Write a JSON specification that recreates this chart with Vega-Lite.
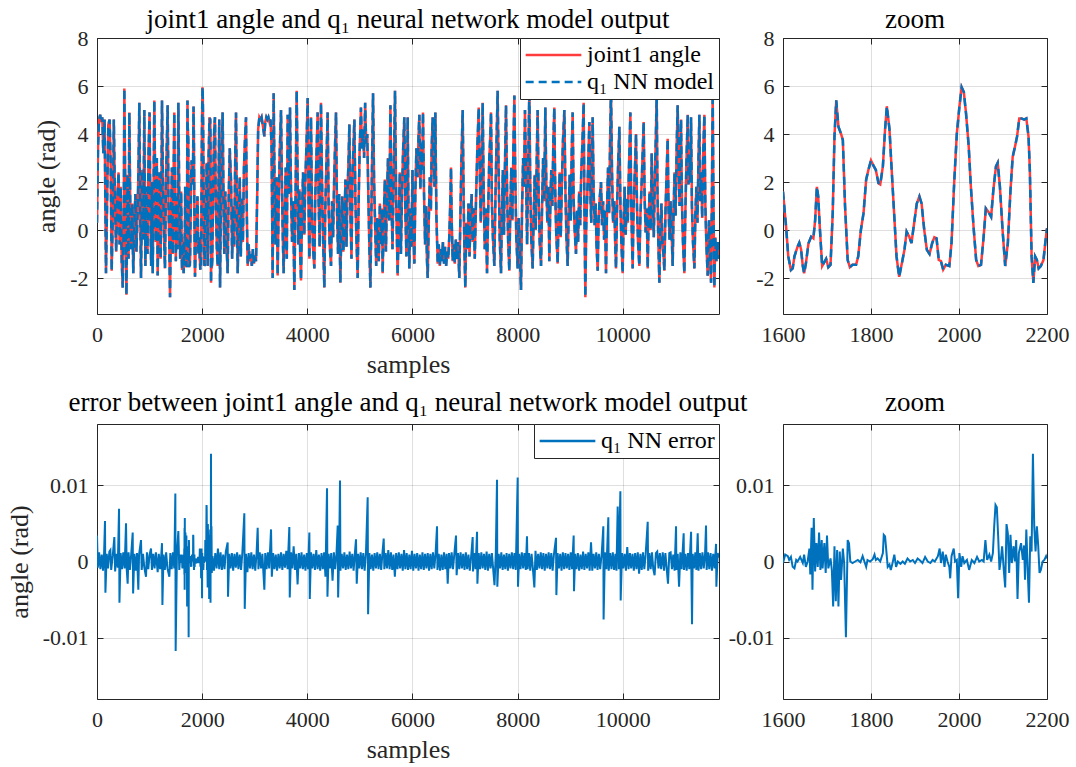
{
  "$schema": "https://vega.github.io/schema/vega-lite/v6.json",
  "background": "white",
  "padding": {"left": 5, "top": 5, "right": 5, "bottom": 0},
  "columns": 2,
  "spacing": {"row": 110, "column": 64},
  "bounds": "flush",
  "align": "each",
  "resolve": {"scale": {"color": "independent", "strokeDash": "independent"}},
  "datasets": {
    "angle": [
      {"sample":0,"angle":0.3},{"sample":20,"angle":3.5},{"sample":40,"angle":4.6},{"sample":60,"angle":4.8},{"sample":80,"angle":4.5},{"sample":100,"angle":4.7},{"sample":120,"angle":3.2},{"sample":145,"angle":4.6},{"sample":171,"angle":-1.8},{"sample":195,"angle":1.5},{"sample":215,"angle":4.4},{"sample":240,"angle":4.6},{"sample":260,"angle":2.8},{"sample":279,"angle":-1.7},{"sample":300,"angle":0.5},{"sample":320,"angle":4.6},{"sample":345,"angle":0.8},{"sample":365,"angle":-0.9},{"sample":385,"angle":1.2},{"sample":410,"angle":2.4},{"sample":430,"angle":-0.6},{"sample":450,"angle":1.8},{"sample":470,"angle":-1.3},{"sample":490,"angle":-2.4},{"sample":510,"angle":0.8},{"sample":520,"angle":5.9},{"sample":540,"angle":1.0},{"sample":560,"angle":-2.7},{"sample":580,"angle":2.3},{"sample":600,"angle":-1.2},{"sample":615,"angle":4.9},{"sample":635,"angle":0.4},{"sample":650,"angle":-0.8},{"sample":670,"angle":1.1},{"sample":690,"angle":-1.8},{"sample":710,"angle":0.2},{"sample":730,"angle":1.5},{"sample":750,"angle":-0.9},{"sample":775,"angle":0.9},{"sample":790,"angle":2.8},{"sample":805,"angle":5.3},{"sample":820,"angle":1.2},{"sample":837,"angle":-2.0},{"sample":860,"angle":2.5},{"sample":880,"angle":-0.4},{"sample":900,"angle":5.0},{"sample":920,"angle":-1.5},{"sample":940,"angle":1.8},{"sample":960,"angle":-1.0},{"sample":980,"angle":3.2},{"sample":1000,"angle":4.9},{"sample":1015,"angle":0.6},{"sample":1030,"angle":-1.5},{"sample":1045,"angle":2.0},{"sample":1060,"angle":-1.8},{"sample":1075,"angle":1.5},{"sample":1090,"angle":5.4},{"sample":1105,"angle":2.2},{"sample":1120,"angle":-0.5},{"sample":1138,"angle":3.0},{"sample":1154,"angle":-1.9},{"sample":1170,"angle":0.7},{"sample":1190,"angle":2.4},{"sample":1210,"angle":-1.2},{"sample":1225,"angle":1.5},{"sample":1236,"angle":5.4},{"sample":1255,"angle":2.0},{"sample":1275,"angle":-0.3},{"sample":1293,"angle":-1.6},{"sample":1310,"angle":1.8},{"sample":1330,"angle":3.8},{"sample":1344,"angle":5.2},{"sample":1360,"angle":1.0},{"sample":1375,"angle":-0.6},{"sample":1389,"angle":-2.8},{"sample":1405,"angle":0.3},{"sample":1425,"angle":2.6},{"sample":1440,"angle":-1.0},{"sample":1455,"angle":1.9},{"sample":1470,"angle":4.9},{"sample":1485,"angle":0.5},{"sample":1500,"angle":-1.3},{"sample":1515,"angle":1.4},{"sample":1530,"angle":-0.8},{"sample":1547,"angle":5.3},{"sample":1565,"angle":1.2},{"sample":1582,"angle":-1.2},
      {"sample":1600,"angle":1.6},{"sample":1607,"angle":0.14},{"sample":1612,"angle":-1.1},{"sample":1618,"angle":-1.67},{"sample":1622,"angle":-1.6},{"sample":1626,"angle":-1.1},{"sample":1633,"angle":-0.7},{"sample":1637,"angle":-0.53},{"sample":1641,"angle":-0.8},{"sample":1645,"angle":-1.5},{"sample":1648,"angle":-1.8},{"sample":1652,"angle":-1.4},{"sample":1658,"angle":-0.55},{"sample":1664,"angle":-0.28},{"sample":1669,"angle":-0.35},{"sample":1673,"angle":0.4},{"sample":1677,"angle":1.8},{"sample":1680,"angle":1.4},{"sample":1684,"angle":0},{"sample":1689,"angle":-1.5},{"sample":1692,"angle":-1.4},{"sample":1698,"angle":-1.2},{"sample":1703,"angle":-1.55},{"sample":1708,"angle":-1.45},{"sample":1713,"angle":0.7},{"sample":1717,"angle":3.9},{"sample":1721,"angle":5.4},{"sample":1726,"angle":4.3},{"sample":1732,"angle":4.0},{"sample":1736,"angle":3.75},{"sample":1741,"angle":1.0},{"sample":1747,"angle":-1.25},{"sample":1752,"angle":-1.55},{"sample":1758,"angle":-1.45},{"sample":1766,"angle":-1.45},{"sample":1771,"angle":-1.1},{"sample":1777,"angle":0},{"sample":1783,"angle":0.7},{"sample":1789,"angle":2.1},{"sample":1794,"angle":2.5},{"sample":1800,"angle":2.9},{"sample":1805,"angle":2.7},{"sample":1811,"angle":2.5},{"sample":1817,"angle":1.95},{"sample":1821,"angle":1.9},{"sample":1827,"angle":2.65},{"sample":1832,"angle":4.2},{"sample":1836,"angle":5.15},{"sample":1842,"angle":4.2},{"sample":1847,"angle":2.5},{"sample":1853,"angle":0.55},{"sample":1858,"angle":-1.1},{"sample":1864,"angle":-1.95},{"sample":1870,"angle":-1.4},{"sample":1876,"angle":-0.83},{"sample":1881,"angle":-0.07},{"sample":1887,"angle":-0.28},{"sample":1892,"angle":-0.55},{"sample":1898,"angle":0.28},{"sample":1904,"angle":1.1},{"sample":1910,"angle":1.4},{"sample":1915,"angle":1.1},{"sample":1921,"angle":0},{"sample":1927,"angle":-0.83},{"sample":1933,"angle":-1.0},{"sample":1939,"angle":-0.55},{"sample":1944,"angle":-0.3},{"sample":1949,"angle":-0.35},{"sample":1954,"angle":-1.25},{"sample":1959,"angle":-1.3},{"sample":1964,"angle":-1.65},{"sample":1970,"angle":-1.45},{"sample":1978,"angle":-1.5},{"sample":1983,"angle":-0.55},{"sample":1989,"angle":1.95},{"sample":1995,"angle":4.0},{"sample":2001,"angle":5.15},{"sample":2006,"angle":5.95},{"sample":2011,"angle":5.75},{"sample":2016,"angle":4.85},{"sample":2022,"angle":3.5},{"sample":2027,"angle":1.8},{"sample":2033,"angle":0.14},{"sample":2039,"angle":-1.25},{"sample":2044,"angle":-1.5},{"sample":2050,"angle":-1.45},{"sample":2056,"angle":-0.28},{"sample":2061,"angle":0.9},{"sample":2067,"angle":0.75},{"sample":2073,"angle":0.55},{"sample":2078,"angle":1.65},{"sample":2084,"angle":2.65},{"sample":2088,"angle":2.8},{"sample":2093,"angle":1.8},{"sample":2099,"angle":0},{"sample":2105,"angle":-1.5},{"sample":2111,"angle":-0.55},{"sample":2117,"angle":1.65},{"sample":2122,"angle":3.05},{"sample":2127,"angle":3.45},{"sample":2132,"angle":3.9},{"sample":2137,"angle":4.65},{"sample":2142,"angle":4.65},{"sample":2148,"angle":4.6},{"sample":2153,"angle":4.65},{"sample":2158,"angle":3.9},{"sample":2161,"angle":2.5},{"sample":2165,"angle":-1.1},{"sample":2169,"angle":-2.2},{"sample":2173,"angle":-1.1},{"sample":2177,"angle":-1.25},{"sample":2181,"angle":-1.6},{"sample":2186,"angle":-1.5},{"sample":2192,"angle":-1.25},{"sample":2196,"angle":-0.55},{"sample":2200,"angle":0.07},
      {"sample":2215,"angle":2.6},{"sample":2230,"angle":4.3},{"sample":2244,"angle":4.7},{"sample":2260,"angle":1.0},{"sample":2280,"angle":-0.8},{"sample":2295,"angle":-1.5},{"sample":2310,"angle":1.8},{"sample":2325,"angle":4.6},{"sample":2340,"angle":-2.4},{"sample":2355,"angle":0.5},{"sample":2370,"angle":3.0},{"sample":2390,"angle":4.9},{"sample":2405,"angle":1.5},{"sample":2420,"angle":-1.0},{"sample":2440,"angle":1.6},{"sample":2460,"angle":-0.4},{"sample":2485,"angle":-1.8},{"sample":2500,"angle":0.8},{"sample":2525,"angle":3.4},{"sample":2550,"angle":2.0},{"sample":2570,"angle":-1.2},{"sample":2590,"angle":1.0},{"sample":2610,"angle":-0.7},{"sample":2630,"angle":3.2},{"sample":2644,"angle":4.9},{"sample":2660,"angle":1.0},{"sample":2676,"angle":-1.8},{"sample":2695,"angle":0.4},{"sample":2715,"angle":2.2},{"sample":2735,"angle":-1.1},{"sample":2755,"angle":1.3},{"sample":2775,"angle":-0.5},{"sample":2795,"angle":2.6},{"sample":2815,"angle":3.8},{"sample":2834,"angle":4.7},{"sample":2850,"angle":0.6},{"sample":2866,"angle":-1.5},{"sample":2885,"angle":-0.6},{"sample":2905,"angle":-1.3},{"sample":2925,"angle":-1.0},{"sample":2945,"angle":-1.5},{"sample":2965,"angle":-0.8},{"sample":2985,"angle":-1.4},{"sample":3005,"angle":-1.1},{"sample":3025,"angle":-1.3},{"sample":3045,"angle":1.2},{"sample":3065,"angle":4.2},{"sample":3088,"angle":4.7},{"sample":3110,"angle":4.6},{"sample":3130,"angle":4.7},{"sample":3150,"angle":4.4},{"sample":3170,"angle":4.1},{"sample":3183,"angle":3.9},{"sample":3200,"angle":4.5},{"sample":3220,"angle":4.7},{"sample":3240,"angle":4.6},{"sample":3260,"angle":4.7},{"sample":3280,"angle":4.5},{"sample":3300,"angle":4.6},{"sample":3320,"angle":3.5},{"sample":3341,"angle":-2.0},{"sample":3360,"angle":5.7},{"sample":3378,"angle":1.8},{"sample":3395,"angle":-0.6},{"sample":3415,"angle":2.2},{"sample":3436,"angle":-1.9},{"sample":3455,"angle":1.0},{"sample":3475,"angle":3.2},{"sample":3500,"angle":5.0},{"sample":3520,"angle":1.4},{"sample":3535,"angle":-0.4},{"sample":3550,"angle":-1.8},{"sample":3570,"angle":0.8},{"sample":3590,"angle":2.6},{"sample":3610,"angle":-1.2},{"sample":3627,"angle":4.8},{"sample":3645,"angle":1.5},{"sample":3660,"angle":3.3},{"sample":3671,"angle":5.1},{"sample":3690,"angle":1.6},{"sample":3710,"angle":-0.5},{"sample":3730,"angle":1.2},{"sample":3753,"angle":-2.5},{"sample":3775,"angle":1.0},{"sample":3798,"angle":5.8},{"sample":3815,"angle":2.4},{"sample":3830,"angle":-0.6},{"sample":3850,"angle":1.7},{"sample":3865,"angle":-1.0},{"sample":3880,"angle":-2.1},{"sample":3900,"angle":0.8},{"sample":3920,"angle":2.4},{"sample":3943,"angle":-0.2},{"sample":3960,"angle":1.9},{"sample":3985,"angle":3.6},{"sample":4007,"angle":5.5},{"sample":4025,"angle":1.0},{"sample":4040,"angle":-1.2},{"sample":4055,"angle":1.8},{"sample":4070,"angle":4.7},{"sample":4090,"angle":0.5},{"sample":4110,"angle":-0.8},{"sample":4134,"angle":-1.6},{"sample":4150,"angle":1.3},{"sample":4170,"angle":2.8},{"sample":4197,"angle":4.9},{"sample":4215,"angle":1.2},{"sample":4235,"angle":-0.7},{"sample":4260,"angle":5.3},{"sample":4280,"angle":2.0},{"sample":4300,"angle":-0.4},{"sample":4324,"angle":-2.4},{"sample":4340,"angle":0.7},{"sample":4360,"angle":2.5},{"sample":4387,"angle":4.9},{"sample":4405,"angle":1.0},{"sample":4425,"angle":-0.6},{"sample":4451,"angle":-1.5},{"sample":4470,"angle":1.2},{"sample":4490,"angle":-0.3},{"sample":4510,"angle":2.0},{"sample":4530,"angle":3.7},{"sample":4546,"angle":4.9},{"sample":4565,"angle":0.8},{"sample":4585,"angle":-1.0},{"sample":4605,"angle":1.5},{"sample":4628,"angle":-2.2},{"sample":4645,"angle":-0.2},{"sample":4665,"angle":1.4},{"sample":4685,"angle":-0.9},{"sample":4704,"angle":0.0},{"sample":4725,"angle":2.1},{"sample":4745,"angle":-0.7},{"sample":4765,"angle":1.6},{"sample":4785,"angle":3.0},{"sample":4800,"angle":4.4},{"sample":4820,"angle":0.7},{"sample":4840,"angle":-1.2},{"sample":4860,"angle":2.3},{"sample":4878,"angle":3.5},{"sample":4895,"angle":4.6},{"sample":4915,"angle":1.2},{"sample":4935,"angle":-0.4},{"sample":4958,"angle":-2.0},{"sample":4975,"angle":1.0},{"sample":4995,"angle":3.3},{"sample":5020,"angle":5.1},{"sample":5040,"angle":3.4},{"sample":5060,"angle":4.2},{"sample":5080,"angle":3.0},{"sample":5100,"angle":5.3},{"sample":5120,"angle":3.6},{"sample":5140,"angle":4.0},{"sample":5160,"angle":1.5},{"sample":5180,"angle":-0.7},{"sample":5200,"angle":-2.4},{"sample":5225,"angle":1.8},{"sample":5250,"angle":5.7},{"sample":5270,"angle":2.0},{"sample":5290,"angle":0.2},{"sample":5310,"angle":-1.5},{"sample":5325,"angle":0.5},{"sample":5338,"angle":0.0},{"sample":5360,"angle":-1.3},{"sample":5380,"angle":1.1},{"sample":5400,"angle":-0.6},{"sample":5420,"angle":0.9},{"sample":5433,"angle":-1.8},{"sample":5455,"angle":0.6},{"sample":5475,"angle":2.1},{"sample":5495,"angle":-0.9},{"sample":5515,"angle":1.4},{"sample":5535,"angle":3.0},{"sample":5560,"angle":0.4},{"sample":5580,"angle":5.2},{"sample":5600,"angle":1.5},{"sample":5620,"angle":-0.8},{"sample":5640,"angle":1.9},{"sample":5668,"angle":5.8},{"sample":5690,"angle":1.2},{"sample":5718,"angle":-1.9},{"sample":5740,"angle":0.5},{"sample":5760,"angle":2.4},{"sample":5780,"angle":-1.0},{"sample":5800,"angle":1.3},{"sample":5820,"angle":3.2},{"sample":5845,"angle":4.7},{"sample":5865,"angle":0.8},{"sample":5885,"angle":-1.1},{"sample":5909,"angle":4.7},{"sample":5925,"angle":0.4},{"sample":5940,"angle":-1.6},{"sample":5960,"angle":0.9},{"sample":5980,"angle":-0.7},{"sample":6000,"angle":2.5},{"sample":6015,"angle":0.2},{"sample":6036,"angle":-1.4},{"sample":6055,"angle":1.6},{"sample":6075,"angle":3.4},{"sample":6095,"angle":2.2},{"sample":6115,"angle":3.9},{"sample":6131,"angle":4.8},{"sample":6150,"angle":1.7},{"sample":6170,"angle":3.6},{"sample":6185,"angle":2.5},{"sample":6200,"angle":4.9},{"sample":6220,"angle":1.5},{"sample":6240,"angle":-0.6},{"sample":6260,"angle":1.0},{"sample":6275,"angle":-1.2},{"sample":6290,"angle":-2.0},{"sample":6310,"angle":0.4},{"sample":6330,"angle":2.2},{"sample":6350,"angle":0.8},{"sample":6365,"angle":3.4},{"sample":6384,"angle":4.7},{"sample":6400,"angle":3.0},{"sample":6420,"angle":1.8},{"sample":6435,"angle":4.9},{"sample":6455,"angle":0.6},{"sample":6480,"angle":-1.4},{"sample":6500,"angle":-0.6},{"sample":6520,"angle":-1.5},{"sample":6540,"angle":-0.8},{"sample":6560,"angle":-1.3},{"sample":6580,"angle":-0.5},{"sample":6600,"angle":-1.4},{"sample":6620,"angle":-0.7},{"sample":6640,"angle":-1.5},{"sample":6660,"angle":-0.9},{"sample":6680,"angle":-1.2},{"sample":6700,"angle":-0.3},{"sample":6720,"angle":1.2},{"sample":6733,"angle":2.6},{"sample":6745,"angle":0.5},{"sample":6765,"angle":-1.3},{"sample":6785,"angle":-0.6},{"sample":6805,"angle":-1.4},{"sample":6825,"angle":-0.4},{"sample":6845,"angle":-1.2},{"sample":6865,"angle":-0.5},{"sample":6891,"angle":-2.0},{"sample":6910,"angle":0.4},{"sample":6930,"angle":2.8},{"sample":6955,"angle":5.0},{"sample":6975,"angle":1.0},{"sample":6990,"angle":-1.0},{"sample":7005,"angle":-2.4},{"sample":7025,"angle":0.3},{"sample":7045,"angle":-0.8},{"sample":7065,"angle":1.1},{"sample":7085,"angle":-1.1},{"sample":7105,"angle":0.6},{"sample":7125,"angle":1.5},{"sample":7145,"angle":-0.5},{"sample":7165,"angle":0.9},{"sample":7185,"angle":-1.2},{"sample":7210,"angle":1.4},{"sample":7235,"angle":3.5},{"sample":7260,"angle":5.1},{"sample":7280,"angle":2.4},{"sample":7300,"angle":0.3},{"sample":7320,"angle":2.8},{"sample":7335,"angle":5.3},{"sample":7355,"angle":1.5},{"sample":7375,"angle":-0.8},{"sample":7395,"angle":0.9},{"sample":7418,"angle":-1.8},{"sample":7440,"angle":0.8},{"sample":7460,"angle":2.9},{"sample":7480,"angle":3.9},{"sample":7494,"angle":4.9},{"sample":7510,"angle":1.2},{"sample":7530,"angle":-0.3},{"sample":7557,"angle":-1.5},{"sample":7575,"angle":1.0},{"sample":7595,"angle":3.3},{"sample":7620,"angle":5.8},{"sample":7640,"angle":2.2},{"sample":7660,"angle":-0.4},{"sample":7684,"angle":-1.8},{"sample":7700,"angle":0.6},{"sample":7720,"angle":2.5},{"sample":7740,"angle":-0.2},{"sample":7760,"angle":2.8},{"sample":7779,"angle":5.2},{"sample":7800,"angle":1.6},{"sample":7820,"angle":-0.5},{"sample":7842,"angle":-1.7},{"sample":7860,"angle":0.8},{"sample":7880,"angle":2.6},{"sample":7900,"angle":0.4},{"sample":7920,"angle":3.5},{"sample":7938,"angle":5.6},{"sample":7955,"angle":2.3},{"sample":7975,"angle":-0.3},{"sample":8001,"angle":-1.6},{"sample":8020,"angle":0.5},{"sample":8040,"angle":-0.8},{"sample":8064,"angle":-2.5},{"sample":8085,"angle":1.0},{"sample":8105,"angle":3.0},{"sample":8120,"angle":1.8},{"sample":8140,"angle":5.0},{"sample":8160,"angle":2.2},{"sample":8180,"angle":-0.6},{"sample":8200,"angle":2.5},{"sample":8223,"angle":5.9},{"sample":8240,"angle":1.8},{"sample":8260,"angle":-0.4},{"sample":8286,"angle":-1.6},{"sample":8305,"angle":0.6},{"sample":8325,"angle":2.3},{"sample":8345,"angle":0.0},{"sample":8365,"angle":3.2},{"sample":8381,"angle":5.0},{"sample":8400,"angle":1.4},{"sample":8420,"angle":-0.5},{"sample":8445,"angle":-1.5},{"sample":8465,"angle":1.0},{"sample":8485,"angle":3.0},{"sample":8505,"angle":1.2},{"sample":8527,"angle":5.1},{"sample":8545,"angle":2.0},{"sample":8565,"angle":0.3},{"sample":8585,"angle":1.8},{"sample":8603,"angle":-1.3},{"sample":8620,"angle":0.8},{"sample":8640,"angle":2.5},{"sample":8660,"angle":1.0},{"sample":8680,"angle":3.8},{"sample":8698,"angle":5.1},{"sample":8715,"angle":1.6},{"sample":8735,"angle":-0.2},{"sample":8762,"angle":-1.4},{"sample":8780,"angle":0.9},{"sample":8800,"angle":2.4},{"sample":8820,"angle":-0.3},{"sample":8840,"angle":1.7},{"sample":8860,"angle":3.6},{"sample":8889,"angle":5.0},{"sample":8910,"angle":1.5},{"sample":8930,"angle":-0.4},{"sample":8952,"angle":-1.5},{"sample":8970,"angle":0.7},{"sample":8990,"angle":2.3},{"sample":9010,"angle":0.4},{"sample":9030,"angle":3.4},{"sample":9047,"angle":4.9},{"sample":9065,"angle":1.3},{"sample":9085,"angle":0.0},{"sample":9110,"angle":-1.0},{"sample":9130,"angle":0.8},{"sample":9150,"angle":-0.5},{"sample":9170,"angle":1.6},{"sample":9190,"angle":0.2},{"sample":9210,"angle":2.4},{"sample":9235,"angle":3.8},{"sample":9256,"angle":5.3},{"sample":9270,"angle":1.0},{"sample":9288,"angle":-2.8},{"sample":9305,"angle":0.2},{"sample":9325,"angle":1.5},{"sample":9345,"angle":3.0},{"sample":9364,"angle":4.5},{"sample":9380,"angle":1.8},{"sample":9400,"angle":0.3},{"sample":9427,"angle":4.7},{"sample":9445,"angle":1.6},{"sample":9465,"angle":0.2},{"sample":9485,"angle":1.1},{"sample":9500,"angle":-0.6},{"sample":9523,"angle":-1.7},{"sample":9540,"angle":0.4},{"sample":9560,"angle":1.3},{"sample":9586,"angle":2.0},{"sample":9605,"angle":0.2},{"sample":9625,"angle":1.2},{"sample":9645,"angle":-0.4},{"sample":9660,"angle":0.8},{"sample":9681,"angle":-1.8},{"sample":9700,"angle":0.9},{"sample":9720,"angle":2.6},{"sample":9740,"angle":0.7},{"sample":9760,"angle":3.9},{"sample":9776,"angle":5.9},{"sample":9795,"angle":2.4},{"sample":9815,"angle":0.3},{"sample":9840,"angle":1.2},{"sample":9855,"angle":-0.5},{"sample":9871,"angle":-1.6},{"sample":9890,"angle":0.8},{"sample":9910,"angle":2.6},{"sample":9935,"angle":4.3},{"sample":9955,"angle":1.0},{"sample":9975,"angle":-0.6},{"sample":9998,"angle":-1.8},{"sample":10015,"angle":0.4},{"sample":10035,"angle":1.8},{"sample":10055,"angle":-0.2},{"sample":10075,"angle":1.3},{"sample":10095,"angle":0.3},{"sample":10115,"angle":2.4},{"sample":10130,"angle":3.6},{"sample":10144,"angle":4.9},{"sample":10160,"angle":1.2},{"sample":10175,"angle":-0.4},{"sample":10188,"angle":-1.6},{"sample":10205,"angle":0.9},{"sample":10230,"angle":2.5},{"sample":10252,"angle":4.0},{"sample":10270,"angle":1.0},{"sample":10290,"angle":-0.5},{"sample":10315,"angle":-1.5},{"sample":10335,"angle":0.6},{"sample":10355,"angle":1.7},{"sample":10375,"angle":3.0},{"sample":10397,"angle":4.5},{"sample":10415,"angle":1.4},{"sample":10435,"angle":-0.1},{"sample":10455,"angle":0.9},{"sample":10474,"angle":-1.6},{"sample":10490,"angle":0.3},{"sample":10510,"angle":1.6},{"sample":10530,"angle":0.0},{"sample":10550,"angle":3.2},{"sample":10570,"angle":1.0},{"sample":10590,"angle":-0.3},{"sample":10610,"angle":2.1},{"sample":10630,"angle":4.0},{"sample":10645,"angle":5.6},{"sample":10660,"angle":1.6},{"sample":10675,"angle":-0.4},{"sample":10696,"angle":-2.2},{"sample":10715,"angle":0.2},{"sample":10735,"angle":1.1},{"sample":10755,"angle":-0.6},{"sample":10773,"angle":-1.0},{"sample":10791,"angle":-1.7},{"sample":10810,"angle":0.6},{"sample":10830,"angle":2.1},{"sample":10854,"angle":3.8},{"sample":10870,"angle":0.9},{"sample":10890,"angle":-0.4},{"sample":10910,"angle":1.2},{"sample":10930,"angle":-0.2},{"sample":10949,"angle":-1.5},{"sample":10965,"angle":0.7},{"sample":10985,"angle":2.4},{"sample":11005,"angle":0.6},{"sample":11025,"angle":3.5},{"sample":11044,"angle":5.2},{"sample":11060,"angle":2.8},{"sample":11080,"angle":1.0},{"sample":11095,"angle":3.2},{"sample":11108,"angle":4.6},{"sample":11125,"angle":1.2},{"sample":11145,"angle":-0.5},{"sample":11171,"angle":-1.8},{"sample":11190,"angle":0.7},{"sample":11210,"angle":2.8},{"sample":11235,"angle":4.8},{"sample":11250,"angle":1.9},{"sample":11270,"angle":3.1},{"sample":11285,"angle":2.0},{"sample":11298,"angle":4.7},{"sample":11315,"angle":1.0},{"sample":11335,"angle":-0.5},{"sample":11362,"angle":-1.6},{"sample":11380,"angle":0.6},{"sample":11400,"angle":1.8},{"sample":11420,"angle":0.3},{"sample":11440,"angle":3.0},{"sample":11457,"angle":4.8},{"sample":11475,"angle":1.2},{"sample":11490,"angle":2.4},{"sample":11510,"angle":0.5},{"sample":11530,"angle":3.2},{"sample":11552,"angle":4.8},{"sample":11570,"angle":1.1},{"sample":11590,"angle":-0.6},{"sample":11615,"angle":-1.9},{"sample":11640,"angle":0.4},{"sample":11660,"angle":-1.0},{"sample":11679,"angle":-2.2},{"sample":11695,"angle":1.4},{"sample":11710,"angle":5.7},{"sample":11725,"angle":1.0},{"sample":11742,"angle":-2.4},{"sample":11760,"angle":-0.3},{"sample":11780,"angle":-1.3},{"sample":11805,"angle":-0.5},{"sample":11825,"angle":-1.2}
    ],
    "err": [
      {"sample":0,"error":0.0034},{"sample":15,"error":-0.0008},{"sample":40,"error":0.0012},{"sample":65,"error":-0.001},{"sample":90,"error":0.0009},{"sample":115,"error":-0.0012},{"sample":135,"error":0.0011},{"sample":152,"error":0.0053},{"sample":160,"error":-0.0041},{"sample":185,"error":0.001},{"sample":210,"error":-0.0009},{"sample":235,"error":0.0013},{"sample":254,"error":0.0015},{"sample":270,"error":-0.0011},{"sample":300,"error":0.0008},{"sample":330,"error":0.0032},{"sample":345,"error":-0.0013},{"sample":370,"error":0.001},{"sample":395,"error":-0.0008},{"sample":419,"error":0.0069},{"sample":427,"error":-0.0054},{"sample":450,"error":0.0011},{"sample":475,"error":-0.001},{"sample":500,"error":0.0012},{"sample":525,"error":-0.0009},{"sample":552,"error":0.005},{"sample":565,"error":-0.001},{"sample":583,"error":-0.0029},{"sample":600,"error":0.0012},{"sample":625,"error":-0.0011},{"sample":650,"error":0.0009},{"sample":679,"error":0.0038},{"sample":687,"error":-0.0042},{"sample":710,"error":0.001},{"sample":735,"error":-0.0012},{"sample":760,"error":0.0011},{"sample":786,"error":-0.0037},{"sample":800,"error":0.0009},{"sample":837,"error":0.0028},{"sample":850,"error":-0.0011},{"sample":875,"error":0.001},{"sample":900,"error":-0.0008},{"sample":932,"error":-0.002},{"sample":950,"error":0.0012},{"sample":975,"error":-0.001},{"sample":1000,"error":0.0009},{"sample":1027,"error":0.0017},{"sample":1045,"error":-0.0011},{"sample":1070,"error":0.001},{"sample":1095,"error":-0.0009},{"sample":1120,"error":0.0012},{"sample":1154,"error":-0.0014},{"sample":1175,"error":0.001},{"sample":1200,"error":-0.001},{"sample":1225,"error":0.0011},{"sample":1236,"error":0.0024},{"sample":1244,"error":-0.0057},{"sample":1265,"error":0.0009},{"sample":1290,"error":-0.0011},{"sample":1315,"error":0.0012},{"sample":1340,"error":-0.0009},{"sample":1376,"error":-0.002},{"sample":1395,"error":0.0011},{"sample":1420,"error":-0.001},{"sample":1445,"error":0.0012},{"sample":1470,"error":-0.0009},{"sample":1490,"error":0.0089},{"sample":1496,"error":-0.0117},{"sample":1520,"error":0.001},{"sample":1547,"error":0.004},{"sample":1565,"error":-0.0011},{"sample":1585,"error":0.0009},
      {"sample":1600,"error":-0.0002},{"sample":1605,"error":0.0009},{"sample":1611,"error":0.0007},{"sample":1614,"error":0.0002},{"sample":1618,"error":0.0006},{"sample":1622,"error":-0.0007},{"sample":1626,"error":-0.0009},{"sample":1630,"error":0.0002},{"sample":1633,"error":0},{"sample":1639,"error":0.0006},{"sample":1645,"error":-0.0002},{"sample":1648,"error":0.0009},{"sample":1652,"error":-0.0007},{"sample":1656,"error":0},{"sample":1660,"error":0.0017},{"sample":1662,"error":-0.0017},{"sample":1665,"error":0.0044},{"sample":1667,"error":-0.0037},{"sample":1670,"error":0.0057},{"sample":1673,"error":-0.0013},{"sample":1676,"error":0.0024},{"sample":1679,"error":-0.0007},{"sample":1682,"error":0.0038},{"sample":1685,"error":-0.0011},{"sample":1688,"error":0.0028},{"sample":1690,"error":-0.0009},{"sample":1694,"error":0.0024},{"sample":1697,"error":-0.0015},{"sample":1700,"error":0.0034},{"sample":1703,"error":-0.0009},{"sample":1708,"error":0.0004},{"sample":1711,"error":-0.0011},{"sample":1714,"error":-0.0059},{"sample":1717,"error":0.002},{"sample":1720,"error":-0.0052},{"sample":1723,"error":0.0015},{"sample":1726,"error":-0.0059},{"sample":1729,"error":0.0013},{"sample":1732,"error":-0.0024},{"sample":1736,"error":0.0017},{"sample":1739,"error":-0.0002},{"sample":1743,"error":-0.0099},{"sample":1747,"error":0.0028},{"sample":1750,"error":0.0024},{"sample":1753,"error":0},{"sample":1758,"error":-0.0002},{"sample":1764,"error":0},{"sample":1770,"error":0.0002},{"sample":1776,"error":-0.0001},{"sample":1781,"error":0.0007},{"sample":1785,"error":0},{"sample":1789,"error":-0.0007},{"sample":1792,"error":0.0002},{"sample":1798,"error":0},{"sample":1804,"error":0.0003},{"sample":1808,"error":0.0009},{"sample":1811,"error":0.0002},{"sample":1815,"error":0.0004},{"sample":1821,"error":0},{"sample":1827,"error":0.0011},{"sample":1829,"error":0.0035},{"sample":1832,"error":0.0033},{"sample":1835,"error":0.0013},{"sample":1838,"error":-0.0007},{"sample":1842,"error":-0.0004},{"sample":1845,"error":-0.0011},{"sample":1849,"error":-0.0002},{"sample":1853,"error":0.0009},{"sample":1857,"error":-0.0007},{"sample":1861,"error":0},{"sample":1867,"error":-0.0003},{"sample":1872,"error":0},{"sample":1877,"error":-0.0003},{"sample":1883,"error":0.0004},{"sample":1889,"error":0},{"sample":1895,"error":0.0002},{"sample":1900,"error":-0.0002},{"sample":1906,"error":0.0004},{"sample":1912,"error":0.0001},{"sample":1917,"error":-0.0002},{"sample":1923,"error":0.0006},{"sample":1929,"error":0},{"sample":1935,"error":-0.0002},{"sample":1940,"error":0.0002},{"sample":1945,"error":0},{"sample":1952,"error":0.0007},{"sample":1956,"error":0.0017},{"sample":1959,"error":-0.0002},{"sample":1963,"error":0.0013},{"sample":1967,"error":-0.0007},{"sample":1970,"error":0.0009},{"sample":1974,"error":0},{"sample":1978,"error":-0.0007},{"sample":1980,"error":-0.0022},{"sample":1983,"error":0.0007},{"sample":1988,"error":0.0017},{"sample":1991,"error":0},{"sample":1995,"error":0.0002},{"sample":1998,"error":-0.0048},{"sample":2001,"error":0.0011},{"sample":2005,"error":-0.0007},{"sample":2008,"error":0.0007},{"sample":2012,"error":-0.0002},{"sample":2018,"error":0.0002},{"sample":2023,"error":-0.0011},{"sample":2029,"error":0.0002},{"sample":2035,"error":-0.0002},{"sample":2041,"error":0.0006},{"sample":2046,"error":0},{"sample":2052,"error":0.0002},{"sample":2056,"error":0},{"sample":2060,"error":0.0028},{"sample":2064,"error":0.0002},{"sample":2069,"error":0.0009},{"sample":2073,"error":0},{"sample":2077,"error":0.0011},{"sample":2080,"error":0.0046},{"sample":2083,"error":0.0074},{"sample":2086,"error":0.0071},{"sample":2089,"error":0.0033},{"sample":2092,"error":-0.0011},{"sample":2095,"error":0.0002},{"sample":2098,"error":0.002},{"sample":2102,"error":-0.0013},{"sample":2105,"error":-0.0034},{"sample":2108,"error":0.0049},{"sample":2111,"error":0.0037},{"sample":2114,"error":-0.0015},{"sample":2117,"error":0.0035},{"sample":2120,"error":-0.0002},{"sample":2124,"error":0.002},{"sample":2127,"error":0},{"sample":2130,"error":0.0028},{"sample":2133,"error":-0.0049},{"sample":2136,"error":0.0011},{"sample":2141,"error":0.0024},{"sample":2145,"error":0.0002},{"sample":2148,"error":0.0021},{"sample":2150,"error":-0.0024},{"sample":2153,"error":0.0042},{"sample":2156,"error":-0.0009},{"sample":2159,"error":-0.0054},{"sample":2162,"error":0.0033},{"sample":2165,"error":0.0013},{"sample":2168,"error":0.0141},{"sample":2171,"error":0.0046},{"sample":2174,"error":0.0013},{"sample":2177,"error":0.0046},{"sample":2180,"error":0.0021},{"sample":2183,"error":-0.0015},{"sample":2186,"error":-0.0011},{"sample":2190,"error":0},{"sample":2194,"error":0.0002},{"sample":2198,"error":0.0007},{"sample":2200,"error":0.0004},
      {"sample":2225,"error":-0.0012},{"sample":2250,"error":0.0011},{"sample":2275,"error":-0.0009},{"sample":2300,"error":0.0017},{"sample":2325,"error":-0.001},{"sample":2350,"error":0.0012},{"sample":2375,"error":-0.0011},{"sample":2400,"error":0.0009},{"sample":2425,"error":-0.001},{"sample":2450,"error":0.0013},{"sample":2485,"error":0.0025},{"sample":2492,"error":-0.0046},{"sample":2515,"error":0.001},{"sample":2540,"error":-0.0009},{"sample":2565,"error":0.0011},{"sample":2590,"error":-0.0012},{"sample":2615,"error":0.001},{"sample":2640,"error":-0.0008},{"sample":2665,"error":0.0012},{"sample":2690,"error":-0.001},{"sample":2715,"error":0.0009},{"sample":2740,"error":-0.0011},{"sample":2765,"error":0.0012},{"sample":2802,"error":0.0063},{"sample":2810,"error":-0.0062},{"sample":2835,"error":0.001},{"sample":2860,"error":-0.0014},{"sample":2885,"error":0.0011},{"sample":2910,"error":-0.0009},{"sample":2935,"error":0.0012},{"sample":2960,"error":-0.001},{"sample":2985,"error":0.0009},{"sample":3010,"error":-0.0012},{"sample":3035,"error":0.0011},{"sample":3056,"error":0.0044},{"sample":3070,"error":-0.001},{"sample":3095,"error":0.0012},{"sample":3120,"error":-0.0009},{"sample":3145,"error":0.001},{"sample":3183,"error":-0.0037},{"sample":3200,"error":0.0011},{"sample":3225,"error":-0.001},{"sample":3250,"error":0.0012},{"sample":3275,"error":-0.0009},{"sample":3310,"error":0.0042},{"sample":3325,"error":-0.002},{"sample":3350,"error":0.0011},{"sample":3375,"error":-0.001},{"sample":3400,"error":0.0009},{"sample":3425,"error":-0.0012},{"sample":3450,"error":0.001},{"sample":3475,"error":-0.0009},{"sample":3500,"error":0.0012},{"sample":3525,"error":-0.0011},{"sample":3550,"error":0.001},{"sample":3575,"error":-0.0008},{"sample":3600,"error":0.0014},{"sample":3625,"error":-0.001},{"sample":3658,"error":0.0045},{"sample":3666,"error":-0.0047},{"sample":3690,"error":0.0012},{"sample":3715,"error":-0.0009},{"sample":3740,"error":0.002},{"sample":3765,"error":-0.0011},{"sample":3790,"error":0.001},{"sample":3815,"error":-0.003},{"sample":3840,"error":0.0011},{"sample":3865,"error":-0.0009},{"sample":3890,"error":0.0012},{"sample":3915,"error":-0.001},{"sample":3940,"error":0.0009},{"sample":3965,"error":-0.0012},{"sample":3990,"error":0.0011},{"sample":4015,"error":-0.001},{"sample":4039,"error":0.0038},{"sample":4047,"error":-0.0049},{"sample":4070,"error":0.0012},{"sample":4095,"error":-0.0009},{"sample":4120,"error":0.001},{"sample":4145,"error":-0.0011},{"sample":4170,"error":0.0015},{"sample":4195,"error":-0.001},{"sample":4220,"error":0.0009},{"sample":4245,"error":-0.0012},{"sample":4270,"error":0.0011},{"sample":4295,"error":-0.001},{"sample":4320,"error":0.0012},{"sample":4345,"error":-0.002},{"sample":4375,"error":0.0096},{"sample":4383,"error":-0.0046},{"sample":4405,"error":0.001},{"sample":4430,"error":-0.0009},{"sample":4455,"error":0.0011},{"sample":4480,"error":-0.0025},{"sample":4505,"error":0.0012},{"sample":4530,"error":-0.001},{"sample":4555,"error":0.001},{"sample":4578,"error":0.0047},{"sample":4586,"error":-0.0047},{"sample":4605,"error":0.0011},{"sample":4622,"error":0.0106},{"sample":4630,"error":-0.0012},{"sample":4655,"error":0.001},{"sample":4680,"error":-0.0009},{"sample":4705,"error":0.0012},{"sample":4730,"error":-0.0011},{"sample":4755,"error":0.0009},{"sample":4780,"error":-0.001},{"sample":4805,"error":0.0013},{"sample":4830,"error":-0.0009},{"sample":4855,"error":0.001},{"sample":4880,"error":-0.0012},{"sample":4905,"error":0.0011},{"sample":4926,"error":0.0029},{"sample":4940,"error":-0.0029},{"sample":4965,"error":0.001},{"sample":4990,"error":-0.0009},{"sample":5015,"error":0.0012},{"sample":5040,"error":-0.001},{"sample":5065,"error":0.0011},{"sample":5090,"error":-0.0012},{"sample":5115,"error":0.001},{"sample":5148,"error":0.0084},{"sample":5156,"error":-0.0069},{"sample":5180,"error":0.0011},{"sample":5205,"error":-0.001},{"sample":5230,"error":0.0009},{"sample":5255,"error":-0.0012},{"sample":5280,"error":0.0011},{"sample":5305,"error":-0.0009},{"sample":5330,"error":0.0012},{"sample":5355,"error":-0.001},{"sample":5380,"error":0.001},{"sample":5405,"error":-0.0011},{"sample":5430,"error":0.0012},{"sample":5453,"error":0.003},{"sample":5465,"error":-0.001},{"sample":5490,"error":0.0011},{"sample":5515,"error":-0.0009},{"sample":5540,"error":0.0015},{"sample":5565,"error":-0.001},{"sample":5590,"error":0.0012},{"sample":5615,"error":-0.0011},{"sample":5640,"error":0.0009},{"sample":5665,"error":-0.002},{"sample":5690,"error":0.0011},{"sample":5715,"error":-0.001},{"sample":5740,"error":0.0012},{"sample":5765,"error":-0.0009},{"sample":5790,"error":0.001},{"sample":5815,"error":-0.0012},{"sample":5840,"error":0.0015},{"sample":5865,"error":-0.001},{"sample":5890,"error":0.0011},{"sample":5915,"error":-0.0011},{"sample":5940,"error":0.0009},{"sample":5965,"error":-0.001},{"sample":5990,"error":0.0014},{"sample":6015,"error":-0.0012},{"sample":6040,"error":0.001},{"sample":6065,"error":-0.0009},{"sample":6090,"error":0.0011},{"sample":6115,"error":-0.0012},{"sample":6140,"error":0.0009},{"sample":6165,"error":-0.001},{"sample":6190,"error":0.0012},{"sample":6215,"error":-0.0011},{"sample":6240,"error":0.001},{"sample":6265,"error":-0.0009},{"sample":6290,"error":0.0011},{"sample":6315,"error":-0.0012},{"sample":6340,"error":0.001},{"sample":6365,"error":-0.001},{"sample":6390,"error":0.0012},{"sample":6415,"error":-0.0009},{"sample":6440,"error":0.0011},{"sample":6467,"error":0.0046},{"sample":6475,"error":-0.0011},{"sample":6500,"error":0.001},{"sample":6525,"error":-0.0012},{"sample":6550,"error":0.0009},{"sample":6575,"error":-0.0011},{"sample":6600,"error":0.0012},{"sample":6625,"error":-0.001},{"sample":6650,"error":0.001},{"sample":6670,"error":-0.0029},{"sample":6695,"error":0.0011},{"sample":6720,"error":-0.0009},{"sample":6745,"error":0.0012},{"sample":6770,"error":-0.001},{"sample":6795,"error":0.0009},{"sample":6828,"error":0.0034},{"sample":6840,"error":-0.0018},{"sample":6865,"error":0.0011},{"sample":6890,"error":-0.001},{"sample":6915,"error":0.0012},{"sample":6940,"error":-0.0009},{"sample":6965,"error":0.001},{"sample":6990,"error":-0.0011},{"sample":7015,"error":0.0012},{"sample":7040,"error":-0.001},{"sample":7065,"error":0.0009},{"sample":7090,"error":-0.0012},{"sample":7120,"error":0.001},{"sample":7145,"error":0.0032},{"sample":7152,"error":-0.0013},{"sample":7175,"error":0.0011},{"sample":7200,"error":-0.001},{"sample":7228,"error":0.0039},{"sample":7235,"error":-0.0029},{"sample":7260,"error":0.0011},{"sample":7285,"error":-0.001},{"sample":7310,"error":0.0012},{"sample":7335,"error":-0.0009},{"sample":7360,"error":0.001},{"sample":7385,"error":-0.0011},{"sample":7410,"error":0.0013},{"sample":7435,"error":-0.0012},{"sample":7460,"error":0.001},{"sample":7485,"error":-0.0009},{"sample":7510,"error":0.0011},{"sample":7535,"error":-0.001},{"sample":7560,"error":-0.0031},{"sample":7585,"error":0.0011},{"sample":7608,"error":0.0107},{"sample":7614,"error":-0.0033},{"sample":7640,"error":0.001},{"sample":7665,"error":-0.0009},{"sample":7690,"error":0.0012},{"sample":7715,"error":-0.0011},{"sample":7740,"error":0.0009},{"sample":7765,"error":-0.001},{"sample":7790,"error":0.0011},{"sample":7815,"error":-0.0012},{"sample":7840,"error":0.001},{"sample":7865,"error":-0.0009},{"sample":7890,"error":0.0012},{"sample":7915,"error":-0.001},{"sample":7940,"error":0.0011},{"sample":7965,"error":-0.0011},{"sample":8001,"error":0.011},{"sample":8007,"error":-0.0033},{"sample":8030,"error":0.001},{"sample":8055,"error":-0.001},{"sample":8080,"error":0.0012},{"sample":8105,"error":-0.0009},{"sample":8130,"error":0.0011},{"sample":8155,"error":-0.0011},{"sample":8178,"error":0.0033},{"sample":8190,"error":-0.001},{"sample":8215,"error":0.0011},{"sample":8240,"error":-0.0012},{"sample":8265,"error":0.001},{"sample":8290,"error":-0.0009},{"sample":8318,"error":-0.0034},{"sample":8340,"error":0.0014},{"sample":8365,"error":-0.0011},{"sample":8390,"error":0.001},{"sample":8415,"error":-0.0009},{"sample":8440,"error":0.0012},{"sample":8465,"error":-0.001},{"sample":8490,"error":0.0011},{"sample":8515,"error":-0.0012},{"sample":8540,"error":0.001},{"sample":8565,"error":-0.0009},{"sample":8590,"error":0.0012},{"sample":8615,"error":-0.001},{"sample":8640,"error":0.0011},{"sample":8665,"error":-0.0012},{"sample":8690,"error":0.0009},{"sample":8730,"error":0.0031},{"sample":8737,"error":-0.0044},{"sample":8760,"error":0.0011},{"sample":8785,"error":-0.0009},{"sample":8810,"error":0.001},{"sample":8835,"error":-0.0012},{"sample":8860,"error":0.0012},{"sample":8885,"error":-0.001},{"sample":8910,"error":0.0011},{"sample":8935,"error":-0.0009},{"sample":8960,"error":0.001},{"sample":8985,"error":-0.0011},{"sample":9010,"error":0.0012},{"sample":9035,"error":-0.001},{"sample":9066,"error":0.0034},{"sample":9072,"error":-0.0039},{"sample":9095,"error":0.001},{"sample":9120,"error":-0.001},{"sample":9145,"error":0.0011},{"sample":9170,"error":-0.0012},{"sample":9195,"error":0.0009},{"sample":9220,"error":-0.001},{"sample":9245,"error":0.0013},{"sample":9270,"error":-0.0011},{"sample":9295,"error":0.001},{"sample":9320,"error":-0.0009},{"sample":9345,"error":0.0012},{"sample":9370,"error":-0.0012},{"sample":9396,"error":0.0025},{"sample":9420,"error":-0.0012},{"sample":9445,"error":0.001},{"sample":9470,"error":-0.0009},{"sample":9495,"error":0.0012},{"sample":9520,"error":-0.0011},{"sample":9545,"error":0.001},{"sample":9570,"error":-0.001},{"sample":9600,"error":0.0011},{"sample":9630,"error":0.0046},{"sample":9635,"error":-0.0076},{"sample":9660,"error":0.0012},{"sample":9690,"error":-0.001},{"sample":9725,"error":0.0058},{"sample":9732,"error":-0.0012},{"sample":9760,"error":0.0011},{"sample":9785,"error":-0.001},{"sample":9810,"error":0.0012},{"sample":9835,"error":-0.0011},{"sample":9860,"error":0.001},{"sample":9880,"error":-0.0012},{"sample":9903,"error":0.0072},{"sample":9925,"error":-0.001},{"sample":9954,"error":0.0092},{"sample":9960,"error":-0.0051},{"sample":9985,"error":0.0011},{"sample":10010,"error":-0.0009},{"sample":10035,"error":0.001},{"sample":10060,"error":-0.0012},{"sample":10085,"error":0.0019},{"sample":10110,"error":-0.001},{"sample":10135,"error":0.0011},{"sample":10160,"error":-0.0009},{"sample":10185,"error":0.001},{"sample":10210,"error":-0.0012},{"sample":10235,"error":0.0011},{"sample":10260,"error":-0.001},{"sample":10285,"error":0.0012},{"sample":10310,"error":-0.0016},{"sample":10335,"error":0.001},{"sample":10360,"error":-0.0011},{"sample":10385,"error":0.0012},{"sample":10410,"error":-0.001},{"sample":10435,"error":0.0009},{"sample":10474,"error":0.0052},{"sample":10482,"error":-0.0012},{"sample":10505,"error":0.0011},{"sample":10530,"error":-0.001},{"sample":10555,"error":0.0012},{"sample":10580,"error":-0.001},{"sample":10605,"error":-0.0018},{"sample":10630,"error":0.0011},{"sample":10655,"error":0.0013},{"sample":10680,"error":-0.0009},{"sample":10705,"error":0.0011},{"sample":10730,"error":-0.001},{"sample":10760,"error":0.0012},{"sample":10785,"error":-0.0012},{"sample":10810,"error":0.0011},{"sample":10835,"error":-0.0009},{"sample":10860,"error":-0.0029},{"sample":10885,"error":0.0011},{"sample":10910,"error":0.0012},{"sample":10935,"error":-0.001},{"sample":10960,"error":0.0009},{"sample":10985,"error":-0.0012},{"sample":11013,"error":0.0046},{"sample":11020,"error":-0.0011},{"sample":11045,"error":0.001},{"sample":11070,"error":-0.0033},{"sample":11095,"error":0.0012},{"sample":11120,"error":-0.001},{"sample":11158,"error":0.0037},{"sample":11165,"error":-0.0011},{"sample":11190,"error":0.001},{"sample":11215,"error":-0.0012},{"sample":11240,"error":0.0011},{"sample":11265,"error":-0.001},{"sample":11299,"error":0.0039},{"sample":11305,"error":-0.0014},{"sample":11317,"error":-0.0082},{"sample":11330,"error":0.001},{"sample":11355,"error":-0.0009},{"sample":11380,"error":0.0012},{"sample":11400,"error":-0.0011},{"sample":11425,"error":0.0037},{"sample":11440,"error":-0.0012},{"sample":11465,"error":0.0011},{"sample":11490,"error":-0.001},{"sample":11515,"error":0.0012},{"sample":11540,"error":-0.0009},{"sample":11565,"error":0.001},{"sample":11583,"error":0.0047},{"sample":11595,"error":-0.0011},{"sample":11620,"error":0.0012},{"sample":11645,"error":-0.001},{"sample":11670,"error":0.0011},{"sample":11695,"error":-0.0012},{"sample":11720,"error":0.001},{"sample":11745,"error":-0.0009},{"sample":11774,"error":0.0023},{"sample":11780,"error":-0.0033},{"sample":11805,"error":0.0011},{"sample":11830,"error":0.0005}
    ]
  },
  "concat": [
    {
      "width": 622,
      "height": 276,
      "title": {"text": "joint1 angle and q₁ neural network model output", "offset": -7},
      "data": {"name": "angle"},
      "layer": [
        {
          "mark": {"type": "line", "strokeWidth": 2.5, "clip": true},
          "encoding": {
            "x": {"field": "sample", "type": "quantitative", "scale": {"domain": [0, 11830], "nice": false, "zero": false}, "axis": {"title": "samples", "values": [0, 2000, 4000, 6000, 8000, 10000]}},
            "y": {"field": "angle", "type": "quantitative", "scale": {"domain": [-3.5, 8], "nice": false, "zero": false}, "axis": {"title": "angle (rad)", "values": [-2, 0, 2, 4, 6, 8]}},
            "color": {"datum": "joint1 angle", "scale": {"domain": ["joint1 angle", "q₁ NN model"], "range": ["#FF3B3B", "#0072BD"]}, "legend": {"title": null}},
            "strokeDash": {"datum": "joint1 angle", "scale": {"domain": ["joint1 angle", "q₁ NN model"], "range": [[1, 0], [8, 5]]}, "legend": {"title": null}}
          }
        },
        {
          "mark": {"type": "line", "strokeWidth": 2.5, "clip": true},
          "encoding": {
            "x": {"field": "sample", "type": "quantitative", "axis": {"orient": "top", "title": null, "labels": false, "grid": false, "values": [0, 2000, 4000, 6000, 8000, 10000]}},
            "y": {"field": "angle", "type": "quantitative", "axis": {"orient": "right", "title": null, "labels": false, "grid": false, "values": [-2, 0, 2, 4, 6, 8]}},
            "color": {"datum": "q₁ NN model"},
            "strokeDash": {"datum": "q₁ NN model"}
          }
        }
      ],
      "resolve": {"axis": {"x": "independent", "y": "independent"}}
    },
    {
      "width": 264,
      "height": 276,
      "title": {"text": "zoom", "offset": -7},
      "data": {"name": "angle"},
      "transform": [{"filter": "datum.sample >= 1600 && datum.sample <= 2200"}],
      "layer": [
        {
          "mark": {"type": "line", "strokeWidth": 2.5, "clip": true},
          "encoding": {
            "x": {"field": "sample", "type": "quantitative", "scale": {"domain": [1600, 2200], "nice": false, "zero": false}, "axis": {"title": null, "values": [1600, 1800, 2000, 2200]}},
            "y": {"field": "angle", "type": "quantitative", "scale": {"domain": [-3.5, 8], "nice": false, "zero": false}, "axis": {"title": null, "values": [-2, 0, 2, 4, 6, 8]}},
            "color": {"datum": "joint1 angle", "scale": {"domain": ["joint1 angle", "q₁ NN model"], "range": ["#FF3B3B", "#0072BD"]}, "legend": null},
            "strokeDash": {"datum": "joint1 angle", "scale": {"domain": ["joint1 angle", "q₁ NN model"], "range": [[1, 0], [8, 5]]}, "legend": null}
          }
        },
        {
          "mark": {"type": "line", "strokeWidth": 2.5, "clip": true},
          "encoding": {
            "x": {"field": "sample", "type": "quantitative", "axis": {"orient": "top", "title": null, "labels": false, "grid": false, "values": [1600, 1800, 2000, 2200]}},
            "y": {"field": "angle", "type": "quantitative", "axis": {"orient": "right", "title": null, "labels": false, "grid": false, "values": [-2, 0, 2, 4, 6, 8]}},
            "color": {"datum": "q₁ NN model"},
            "strokeDash": {"datum": "q₁ NN model"}
          }
        }
      ],
      "resolve": {"axis": {"x": "independent", "y": "independent"}}
    },
    {
      "width": 622,
      "height": 275,
      "title": {"text": "error between joint1 angle and q₁ neural network model output", "offset": 7},
      "data": {"name": "err"},
      "layer": [
        {
          "mark": {"type": "line", "strokeWidth": 2, "clip": true},
          "encoding": {
            "x": {"field": "sample", "type": "quantitative", "scale": {"domain": [0, 11830], "nice": false, "zero": false}, "axis": {"title": "samples", "values": [0, 2000, 4000, 6000, 8000, 10000]}},
            "y": {"field": "error", "type": "quantitative", "scale": {"domain": [-0.018, 0.018], "nice": false, "zero": false}, "axis": {"title": "angle (rad)", "values": [-0.01, 0, 0.01]}},
            "color": {"datum": "q₁ NN error", "scale": {"domain": ["q₁ NN error"], "range": ["#0072BD"]}, "legend": {"title": null}}
          }
        },
        {
          "transform": [{"filter": "datum.sample < 0"}],
          "mark": {"type": "point", "opacity": 0},
          "encoding": {
            "x": {"field": "sample", "type": "quantitative", "axis": {"orient": "top", "title": null, "labels": false, "grid": false, "values": [0, 2000, 4000, 6000, 8000, 10000]}},
            "y": {"field": "error", "type": "quantitative", "axis": {"orient": "right", "title": null, "labels": false, "grid": false, "values": [-0.01, 0, 0.01]}}
          }
        }
      ],
      "resolve": {"axis": {"x": "independent", "y": "independent"}}
    },
    {
      "width": 264,
      "height": 275,
      "title": {"text": "zoom", "offset": 7},
      "data": {"name": "err"},
      "transform": [{"filter": "datum.sample >= 1600 && datum.sample <= 2200"}],
      "layer": [
        {
          "mark": {"type": "line", "strokeWidth": 2, "clip": true},
          "encoding": {
            "x": {"field": "sample", "type": "quantitative", "scale": {"domain": [1600, 2200], "nice": false, "zero": false}, "axis": {"title": null, "values": [1600, 1800, 2000, 2200]}},
            "y": {"field": "error", "type": "quantitative", "scale": {"domain": [-0.018, 0.018], "nice": false, "zero": false}, "axis": {"title": null, "values": [-0.01, 0, 0.01]}},
            "color": {"datum": "q₁ NN error", "scale": {"domain": ["q₁ NN error"], "range": ["#0072BD"]}, "legend": null}
          }
        },
        {
          "transform": [{"filter": "datum.sample < 0"}],
          "mark": {"type": "point", "opacity": 0},
          "encoding": {
            "x": {"field": "sample", "type": "quantitative", "axis": {"orient": "top", "title": null, "labels": false, "grid": false, "values": [1600, 1800, 2000, 2200]}},
            "y": {"field": "error", "type": "quantitative", "axis": {"orient": "right", "title": null, "labels": false, "grid": false, "values": [-0.01, 0, 0.01]}}
          }
        }
      ],
      "resolve": {"axis": {"x": "independent", "y": "independent"}}
    }
  ],
  "config": {
    "font": "Liberation Serif",
    "view": {"stroke": "#262626", "strokeWidth": 1},
    "title": {"font": "Liberation Serif", "fontSize": 27, "fontWeight": "normal", "color": "#000000"},
    "axis": {
      "labelFont": "Liberation Serif", "labelFontSize": 22, "labelColor": "#262626",
      "titleFont": "Liberation Serif", "titleFontSize": 26, "titleFontWeight": "normal", "titleColor": "#262626",
      "domain": false, "ticks": true, "tickColor": "#262626", "tickSize": -6, "tickWidth": 1,
      "grid": true, "gridColor": "#262626", "gridOpacity": 0.15,
      "labelFlush": false, "labelOverlap": false, "labelBound": false,
      "labelExpr": "replace(format(datum.value, '~g'), '\u2212', '-')"
    },
    "axisX": {"labelPadding": 16, "titlePadding": 6},
    "axisY": {"labelPadding": 15, "titlePadding": 10},
    "legend": {
      "orient": "top-right", "offset": 0, "fillColor": "white", "strokeColor": "#262626",
      "padding": 4, "rowPadding": 1, "cornerRadius": 0, "clipHeight": 26,
      "labelFont": "Liberation Serif", "labelFontSize": 24, "labelColor": "#000000", "labelOffset": 4,
      "symbolType": "stroke", "symbolSize": 3100, "symbolStrokeWidth": 2.5
    }
  }
}
